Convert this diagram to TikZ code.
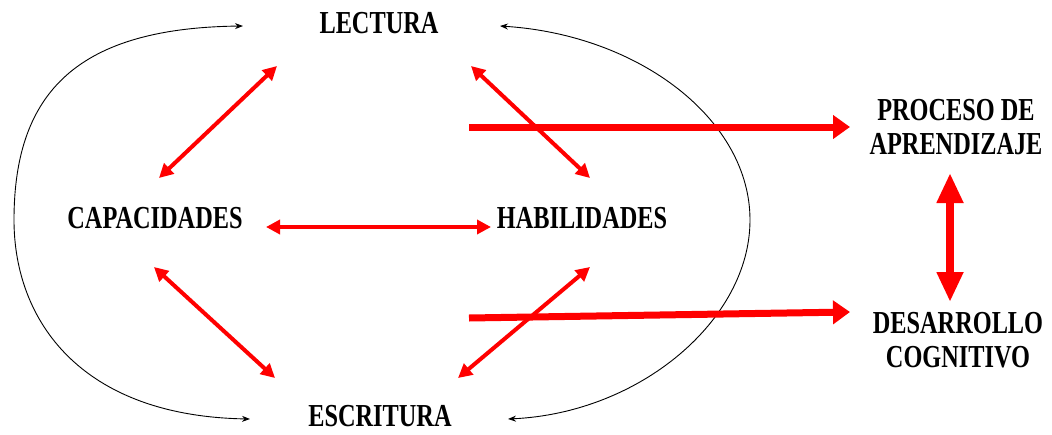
\documentclass[tikz,border=0pt]{standalone}
\usepackage{fontspec}
\newfontfamily\lab[FakeStretch=0.76]{Liberation Serif}
\usetikzlibrary{arrows.meta}
\begin{document}
\begin{tikzpicture}[x=1pt,y=-1pt,
 lbl/.style={font=\lab\bfseries\fontsize{32}{34}\selectfont, inner sep=0pt, align=center},
 redarr/.style={draw=red, line width=4pt, {Triangle[length=14pt,width=14pt]}-{Triangle[length=14pt,width=14pt]}},
 bigarr/.style={draw=red, line width=7pt, -{Triangle[length=17pt,width=23pt]}},
 vertarr/.style={draw=red, line width=8pt, {Triangle[length=30pt,width=25pt]}-{Triangle[length=30pt,width=25pt]}},
 cyc/.style={draw=black, line width=0.9pt, {Stealth[length=8pt,width=6pt]}-{Stealth[length=8pt,width=6pt]}}]
\useasboundingbox (0,0) rectangle (1052,434);
% labels
\node[lbl] (lec) at (379,23) {LECTURA};
\node[lbl] (cap) at (155,218) {CAPACIDADES};
\node[lbl] (hab) at (582,218) {HABILIDADES};
\node[lbl] (esc) at (380,416) {ESCRITURA};
\node[lbl] (pro) at (956,127) {PROCESO DE\\APRENDIZAJE};
\node[lbl] (des) at (958,340) {DESARROLLO\\COGNITIVO};
% arrow end points
\coordinate (lc1) at (277,66);  \coordinate (lc2) at (159,178);
\coordinate (lh1) at (471,66);  \coordinate (lh2) at (590,178);
\coordinate (ch1) at (266,227); \coordinate (ch2) at (491,227);
\coordinate (ce1) at (154,267); \coordinate (ce2) at (275,378);
\coordinate (he1) at (590,267); \coordinate (he2) at (458,378);
\coordinate (ta1) at (469,127); \coordinate (ta2) at (850,127);
\coordinate (ba1) at (469,318); \coordinate (ba2) at (850,312);
\coordinate (va1) at (950,173); \coordinate (va2) at (950,302);
\coordinate (cl1) at (243,26);  \coordinate (cl2) at (14,220);  \coordinate (cl3) at (250,419);
\coordinate (cr1) at (500,26);  \coordinate (cr2) at (750,220); \coordinate (cr3) at (508,419);
% black cycle curves
\draw[cyc] (cl1) .. controls (80,28) and (14,90) .. (cl2) .. controls (14,320) and (80,416) .. (cl3);
\draw[cyc] (cr1) .. controls (640,35) and (750,120) .. (cr2) .. controls (750,320) and (640,413) .. (cr3);
% red double arrows
\draw[redarr] (lc2) -- (lc1);
\draw[redarr] (lh1) -- (lh2);
\draw[redarr] (ch1) -- (ch2);
\draw[redarr] (ce1) -- (ce2);
\draw[redarr] (he1) -- (he2);
% big arrows
\draw[bigarr] (ta1) -- (ta2);
\draw[bigarr] (ba1) -- (ba2);
\draw[vertarr] (va1) -- (va2);
\end{tikzpicture}
\end{document}
